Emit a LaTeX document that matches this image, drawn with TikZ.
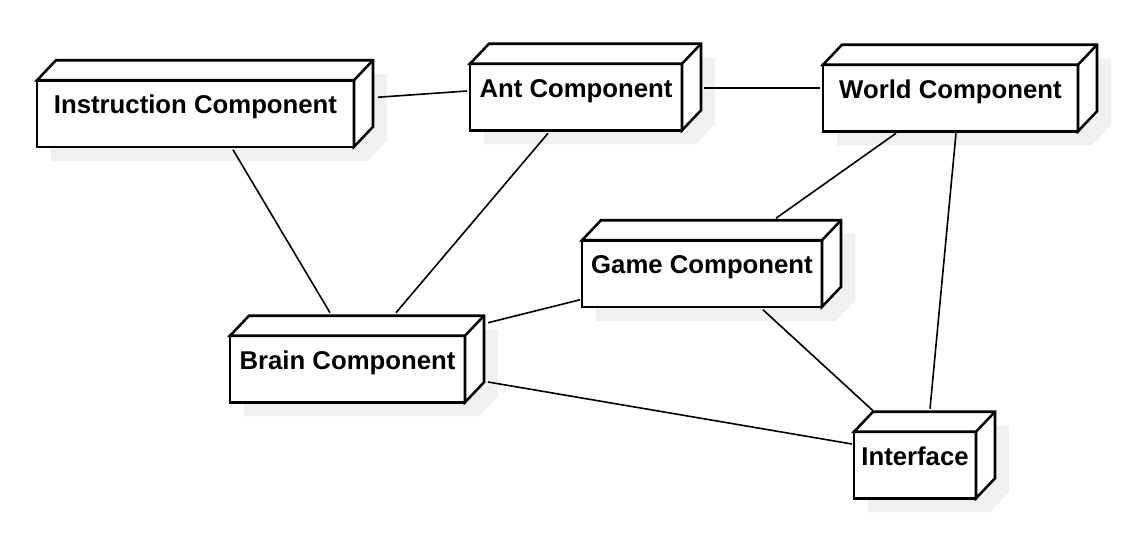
\documentclass[tikz,border=0pt]{standalone}
\usepackage{fontspec}
\setmainfont{Liberation Sans}
\usetikzlibrary{calc,backgrounds}

\tikzset{
  comp/.style={draw, line width=1.9pt, fill=white, inner sep=0pt, outer sep=0pt,
    text height=25.1pt, text depth=24.8pt,
    font=\fontsize{19.3pt}{23pt}\selectfont\bfseries},
  face/.style={fill=white, line width=1.9pt, line join=miter},
  link/.style={line width=1.2pt},
}

\begin{document}
\begin{tikzpicture}[x=0.75pt, y=-0.75pt]
    \useasboundingbox (0,0) rectangle (1136,536);

    \node[comp, minimum width=237.75pt] (instr) at (195.5,113.5) {Instruction Component};
    \node[comp, minimum width=159pt] (ant) at (576,97) {Ant Component};
    \node[comp, minimum width=191.25pt] (world) at (950.5,98) {World Component};
    \node[comp, minimum width=180pt] (game) at (702,273.5) {Game Component};
    \node[comp, minimum width=176.25pt] (brain) at (347.5,369) {Brain Component};
    \node[comp, minimum width=91.5pt] (iface) at (915,465) {Interface};

    % top and side faces, shadow underneath
    \foreach \n in {instr,ant,world,game,brain,iface} {
        \filldraw[face] (\n.north west) -- ++(19,-20) -- ([shift={(19,-20)}]\n.north east)
            -- ([shift={(19,-20)}]\n.south east) -- (\n.south east) -- (\n.north east) -- cycle;
        \draw[face] (\n.north east) -- ++(19,-20);
        \begin{pgfonlayer}{background}
            \fill[black!6] ([shift={(14,14)}]\n.south west) -- ([shift={(14,14)}]\n.north west)
                -- ([shift={(33,-6)}]\n.north west) -- ([shift={(33,-6)}]\n.north east)
                -- ([shift={(33,-6)}]\n.south east) -- ([shift={(14,14)}]\n.south east) -- cycle;
        \end{pgfonlayer}
    }

    \draw[link] ($(instr.north east)+(24,17)$) -- ($(ant.west)+(-3,-6)$);
    \draw[link] ($(ant.east)+(22,-9)$) -- ($(world.west)+(-3,-10)$);
    \draw[link] ($(instr.south)+(37.5,3)$) -- ($(brain.north)+(-17.5,-23)$);
    \draw[link] ($(ant.south)+(-28,3)$) -- ($(brain.north)+(48.5,-23)$);
    \draw[link] ($(game.south west)+(-2,-7)$) -- ($(brain.north east)+(23,-13)$);
    \draw[link] ($(brain.east)+(23,13)$) -- ($(iface.west)+(-2,-21)$);
    \draw[link] ($(world.south)+(-54.5,2)$) -- ($(game.north)+(74,-22)$);
    \draw[link] ($(world.south)+(5.5,2)$) -- ($(iface.north)+(15,-23)$);
    \draw[link] ($(game.south)+(61,3)$) -- ($(iface.north)+(-42,-21)$);
\end{tikzpicture}
\end{document}
